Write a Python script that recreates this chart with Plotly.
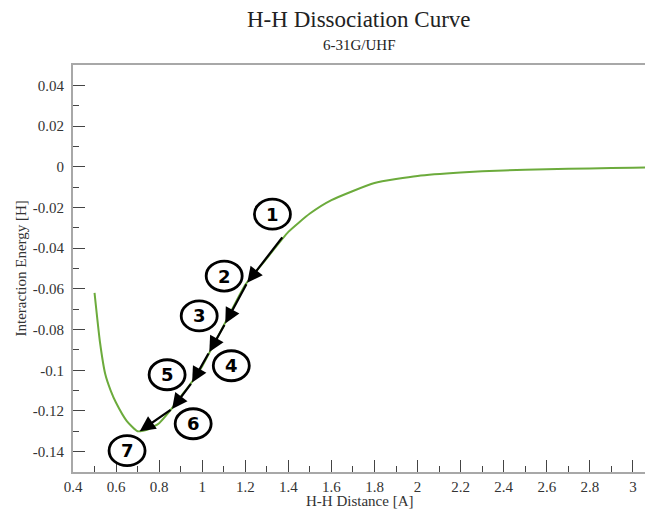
import plotly.graph_objects as go

# Dissociation curve data
distance = [0.5, 0.525, 0.55, 0.575, 0.6, 0.65, 0.7, 0.75, 0.8, 0.85, 0.9, 0.95, 1.0, 1.05, 1.1,
            1.2, 1.3, 1.4, 1.5, 1.6, 1.8, 2.0, 2.2, 2.4, 2.6, 2.8, 3.0, 3.2]
energy = [-0.062, -0.086, -0.102, -0.110, -0.116, -0.125, -0.130, -0.129, -0.126, -0.120,
          -0.113, -0.106, -0.098, -0.088, -0.078, -0.058, -0.045, -0.032, -0.023, -0.0164,
          -0.008, -0.0045, -0.0028, -0.0018, -0.0012, -0.0008, -0.0005, -0.0002]

# Optimisation steps (points on the curve)
step_x = [1.377, 1.209, 1.107, 1.033, 0.953, 0.860, 0.710]
step_y = [-0.034, -0.057, -0.077, -0.091, -0.106, -0.119, -0.130]
step_labels = ["1", "2", "3", "4", "5", "6", "7"]
label_x = [1.326, 1.102, 0.986, 1.135, 0.837, 0.958, 0.651]
label_y = [-0.0233, -0.0537, -0.0733, -0.0978, -0.1022, -0.1263, -0.1395]

x_tickvals = [0.4, 0.6, 0.8, 1.0, 1.2, 1.4, 1.6, 1.8, 2.0, 2.2, 2.4, 2.6, 2.8, 3.0]
x_ticktext = ["0.4", "0.6", "0.8", "1", "1.2", "1.4", "1.6", "1.8", "2", "2.2", "2.4", "2.6", "2.8", "3"]
y_tickvals = [0.04, 0.02, 0, -0.02, -0.04, -0.06, -0.08, -0.1, -0.12, -0.14]
y_ticktext = ["0.04", "0.02", "0", "-0.02", "-0.04", "-0.06", "-0.08", "-0.1", "-0.12", "-0.14"]

title_text = "H-H Dissociation Curve"
subtitle_text = "6-31G/UHF"
x_title = "H-H Distance [A]"
y_title = "Interaction Energy [H]"

SERIF = "Liberation Serif, Times New Roman, DejaVu Serif, serif"
FIG_W, FIG_H = 645, 510
M_L, M_R, M_T, M_B = 73, 0, 65, 38
PLOT_W = FIG_W - M_L - M_R
PLOT_H = FIG_H - M_T - M_B

fig = go.Figure()
fig.add_trace(go.Scatter(x=distance, y=energy, mode="lines",
                         line=dict(color="#6cab3c", width=2, shape="spline", smoothing=0.5),
                         showlegend=False, hoverinfo="skip"))

annotations = []
shapes = []
for i in range(len(step_x) - 1):
    annotations.append(dict(x=step_x[i + 1], y=step_y[i + 1], ax=step_x[i], ay=step_y[i],
                            xref="x", yref="y", axref="x", ayref="y", text="",
                            showarrow=True, arrowhead=2, arrowsize=1.4, arrowwidth=2.2,
                            arrowcolor="black", standoff=0, startstandoff=0))
for lx, ly, lab in zip(label_x, label_y, step_labels):
    shapes.append(dict(type="circle", xref="x", yref="y", xsizemode="pixel", ysizemode="pixel",
                       xanchor=lx, yanchor=ly, x0=-18, x1=18, y0=-15, y1=15,
                       line=dict(color="black", width=2.8), fillcolor="white", layer="above"))
    annotations.append(dict(x=lx, y=ly, xref="x", yref="y", text="<b>%s</b>" % lab,
                            showarrow=False, font=dict(family="DejaVu Sans", size=18, color="black")))

annotations.append(dict(text=title_text, xref="paper", yref="paper", x=0.5, y=1 + (65 - 20) / PLOT_H,
                        xanchor="center", yanchor="middle", showarrow=False,
                        font=dict(family=SERIF, size=23, color="#222")))
annotations.append(dict(text=subtitle_text, xref="paper", yref="paper", x=0.5, y=1 + (65 - 45) / PLOT_H,
                        xanchor="center", yanchor="middle", showarrow=False,
                        font=dict(family=SERIF, size=15, color="#222")))
annotations.append(dict(text=x_title, xref="paper", yref="paper", x=0.5, y=-(501 - 472) / PLOT_H,
                        xanchor="center", yanchor="middle", showarrow=False,
                        font=dict(family=SERIF, size=15, color="#333")))
annotations.append(dict(text=y_title, xref="paper", yref="paper", x=-(73 - 20) / PLOT_W, y=0.5,
                        xanchor="center", yanchor="middle", showarrow=False, textangle=-90,
                        font=dict(family=SERIF, size=15, color="#333")))

fig.update_layout(
    width=FIG_W, height=FIG_H,
    font=dict(family=SERIF, size=15, color="#333"),
    margin=dict(l=M_L, r=M_R, t=M_T, b=M_B, autoexpand=False),
    paper_bgcolor="white", plot_bgcolor="white",
    xaxis=dict(range=[0.4, 3.056], tickvals=x_tickvals, ticktext=x_ticktext,
               ticks="inside", ticklen=12, tickwidth=1, tickcolor="#444",
               minor=dict(ticks="inside", ticklen=6, dtick=0.1, tick0=0.4, tickcolor="#444", tickwidth=1),
               showline=True, linecolor="#a8a8a8", linewidth=2, mirror=True,
               showgrid=False, zeroline=False, automargin=False,
               tickfont=dict(family=SERIF, size=15, color="#333")),
    yaxis=dict(range=[-0.15, 0.05], tickvals=y_tickvals, ticktext=y_ticktext,
               ticks="inside", ticklen=12, tickwidth=1, tickcolor="#444",
               minor=dict(ticks="inside", ticklen=6, dtick=0.01, tick0=0, tickcolor="#444", tickwidth=1),
               showline=True, linecolor="#a8a8a8", linewidth=2, mirror=False,
               showgrid=False, zeroline=False, automargin=False, ticklabelstandoff=4,
               tickfont=dict(family=SERIF, size=15, color="#333")),
    annotations=annotations,
    shapes=shapes,
)

fig.write_html("out.html", config={"displayModeBar": False, "staticPlot": True},
               post_script="document.body.style.margin='0';document.body.style.overflow='hidden';")
